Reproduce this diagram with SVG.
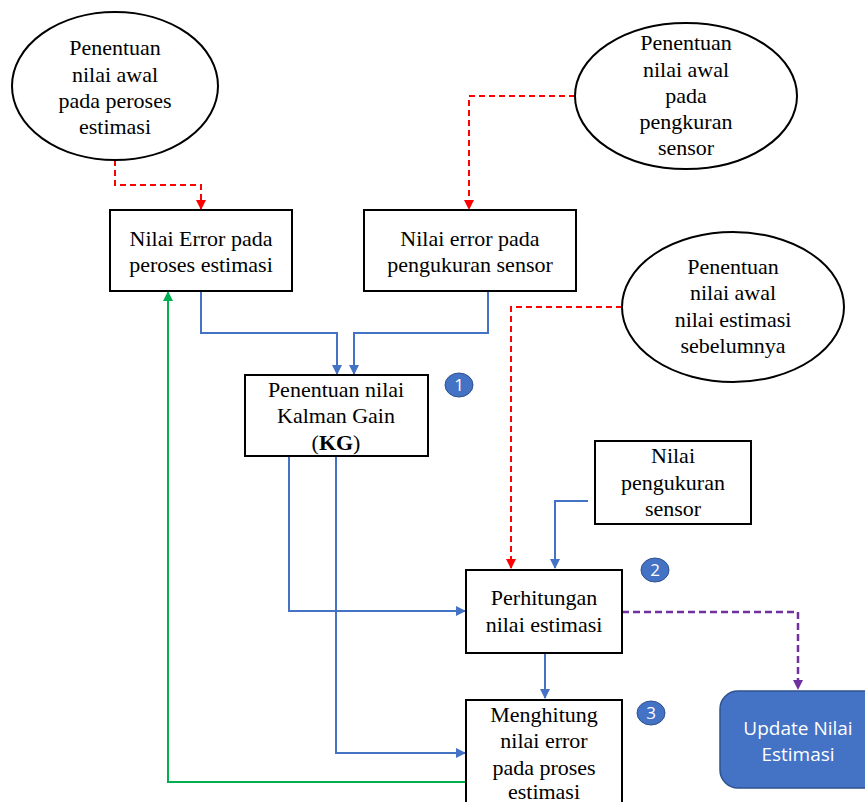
<svg xmlns="http://www.w3.org/2000/svg" width="865" height="802" viewBox="0 0 865 802">
<style>
.shape{fill:#fff;stroke:#000;stroke-width:2}
.t{font-family:"Liberation Serif","Times New Roman",serif;font-size:22px;fill:#000;text-anchor:middle}
.b{fill:none;stroke:#4472C4;stroke-width:2}
.r{fill:none;stroke:#FF0000;stroke-width:2;stroke-dasharray:6,4}
.p{fill:none;stroke:#7030A0;stroke-width:2.5;stroke-dasharray:7,4}
.g{fill:none;stroke:#00B050;stroke-width:2}
.badge{fill:#4472C4;stroke:#2F528F;stroke-width:1}
.bt{font-family:"Open Sans","Liberation Sans",sans-serif;font-size:17px;fill:#fff;text-anchor:middle}
.ut{font-family:"Open Sans","Liberation Sans",sans-serif;font-size:19px;fill:#fff;text-anchor:middle}
</style>
<defs>
<marker id="ab" markerWidth="10" markerHeight="10" refX="9" refY="5" orient="auto" markerUnits="userSpaceOnUse"><path d="M0,0 L10,5 L0,10 z" fill="#4472C4"/></marker>
<marker id="ar" markerWidth="10" markerHeight="10" refX="9" refY="5" orient="auto" markerUnits="userSpaceOnUse"><path d="M0,0 L10,5 L0,10 z" fill="#FF0000"/></marker>
<marker id="ap" markerWidth="10" markerHeight="10" refX="9" refY="5" orient="auto" markerUnits="userSpaceOnUse"><path d="M0,0 L10,5 L0,10 z" fill="#7030A0"/></marker>
<marker id="ag" markerWidth="10" markerHeight="10" refX="9" refY="5" orient="auto" markerUnits="userSpaceOnUse"><path d="M0,0 L10,5 L0,10 z" fill="#00B050"/></marker>
</defs>
<g id="connectors">
<path class="r" d="M115,160 V185 H201 V209" marker-end="url(#ar)"/>
<path class="r" d="M575,96 H469 V209" marker-end="url(#ar)"/>
<path class="r" d="M622,307 H511 V568" marker-end="url(#ar)"/>
<path class="b" d="M201,291 V333 H337 V374" marker-end="url(#ab)"/>
<path class="b" d="M488,291 V333 H354 V374" marker-end="url(#ab)"/>
<path class="b" d="M289,456 V611 H465" marker-end="url(#ab)"/>
<path class="b" d="M336,456 V753 H465" marker-end="url(#ab)"/>
<path class="b" d="M588,501 H555 V568" marker-end="url(#ab)"/>
<path class="b" d="M545,653 V698" marker-end="url(#ab)"/>
<path class="p" d="M622,612 H798 V689" marker-end="url(#ap)"/>
<path class="g" d="M466,782 H168 V292" marker-end="url(#ag)"/>
</g>
<g id="ellipse-awal-estimasi">
<ellipse class="shape" cx="115" cy="86" rx="103" ry="74"/>
<text class="t" x="115" y="55">Penentuan</text>
<text class="t" x="115" y="82">nilai awal</text>
<text class="t" x="115" y="108">pada peroses</text>
<text class="t" x="115" y="134">estimasi</text>
</g>
<g id="ellipse-awal-sensor">
<ellipse class="shape" cx="686" cy="96" rx="111" ry="73"/>
<text class="t" x="686" y="50">Penentuan</text>
<text class="t" x="686" y="77">nilai awal</text>
<text class="t" x="686" y="103">pada</text>
<text class="t" x="686" y="129">pengkuran</text>
<text class="t" x="686" y="155">sensor</text>
</g>
<g id="ellipse-awal-sebelumnya">
<ellipse class="shape" cx="733" cy="307" rx="111" ry="75"/>
<text class="t" x="733" y="274">Penentuan</text>
<text class="t" x="733" y="300">nilai awal</text>
<text class="t" x="733" y="327">nilai estimasi</text>
<text class="t" x="733" y="353">sebelumnya</text>
</g>
<g id="box-error-estimasi">
<rect class="shape" x="110" y="210" width="182" height="81"/>
<text class="t" x="201" y="246">Nilai Error pada</text>
<text class="t" x="201" y="272">peroses estimasi</text>
</g>
<g id="box-error-sensor">
<rect class="shape" x="364" y="210" width="212" height="81"/>
<text class="t" x="470" y="246">Nilai error pada</text>
<text class="t" x="470" y="272">pengukuran sensor</text>
</g>
<g id="box-kg">
<rect class="shape" x="245" y="375" width="183" height="81"/>
<text class="t" x="336" y="397">Penentuan nilai</text>
<text class="t" x="336" y="423">Kalman Gain</text>
<text class="t" x="336" y="450">(<tspan font-weight="bold">KG</tspan>)</text>
</g>
<g id="badge-1">
<ellipse class="badge" cx="459" cy="385" rx="14" ry="12"/>
<text class="bt" x="459" y="391">1</text>
</g>
<g id="box-pengukuran">
<rect class="shape" x="595" y="441" width="156" height="83"/>
<text class="t" x="673" y="463">Nilai</text>
<text class="t" x="673" y="490">pengukuran</text>
<text class="t" x="673" y="516">sensor</text>
</g>
<g id="box-perhitungan">
<rect class="shape" x="466" y="570" width="156" height="83"/>
<text class="t" x="544" y="605">Perhitungan</text>
<text class="t" x="544" y="632">nilai estimasi</text>
</g>
<g id="badge-2">
<ellipse class="badge" cx="655" cy="570" rx="14" ry="12"/>
<text class="bt" x="655" y="576">2</text>
</g>
<g id="box-menghitung">
<rect class="shape" x="466" y="700" width="156" height="110"/>
<text class="t" x="544" y="722">Menghitung</text>
<text class="t" x="544" y="748">nilai error</text>
<text class="t" x="544" y="775">pada proses</text>
<text class="t" x="544" y="799">estimasi</text>
</g>
<g id="badge-3">
<ellipse class="badge" cx="651" cy="713" rx="14" ry="12"/>
<text class="bt" x="651" y="719">3</text>
</g>
<g id="box-update">
<rect x="720" y="691" width="165" height="97" rx="18" fill="#4472C4" stroke="#2F528F" stroke-width="1.5"/>
<text class="ut" x="798" y="735">Update Nilai</text>
<text class="ut" x="798" y="761">Estimasi</text>
</g>
</svg>
